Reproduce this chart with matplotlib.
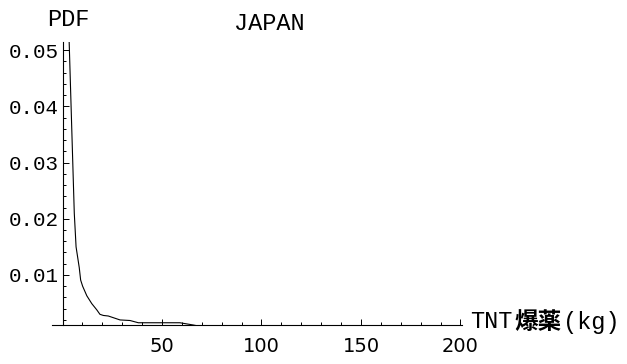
import numpy as np
import matplotlib.pyplot as plt
from matplotlib.ticker import FixedLocator

# density curve, TNT charge (kg) vs PDF
tnt_kg = [3.2, 5.4, 5.9, 6.8, 8.4, 9.1, 10.1, 12.2, 14.7, 17.2, 18.8, 20.5, 23.0,
          28.9, 33.9, 38.1, 59.0, 65.7, 70.0]
pdf = [0.0530, 0.0269, 0.0210, 0.0150, 0.0113, 0.0091, 0.0080, 0.0063, 0.0049,
       0.0038, 0.0030, 0.0028, 0.0027, 0.0020, 0.0019, 0.0015, 0.0015, 0.0011, 0.0008]

x_major = [50, 100, 150, 200]
x_minor = [v for v in range(10, 200, 10) if v % 50 != 0]
y_major = [0.01, 0.02, 0.03, 0.04, 0.05]
y_labels = ['0.01', '0.02', '0.03', '0.04', '0.05']
y_minor = [round(v, 3) for v in np.arange(0.002, 0.0501, 0.002) if round(v * 1000) % 10 != 0]

W, H = 627, 364
fig = plt.figure(figsize=(W / 100, H / 100), dpi=100)
# axes box in pixels: left 52, right 462, top 41.7, bottom 325
ax = fig.add_axes([52 / W, (H - 325) / H, 410 / W, (325 - 41.7) / H])

ax.plot(tnt_kg, pdf, color='black', lw=0.8)
ax.set_xlim(-5.3, 200.8)
ax.set_ylim(0.0011, 0.0515)

for s in ['top', 'right']:
    ax.spines[s].set_visible(False)
ax.spines['left'].set_position(('data', 0))
for s in ['left', 'bottom']:
    ax.spines[s].set_linewidth(0.8)

ax.xaxis.set_major_locator(FixedLocator(x_major))
ax.xaxis.set_minor_locator(FixedLocator(x_minor))
ax.yaxis.set_major_locator(FixedLocator(y_major))
ax.yaxis.set_minor_locator(FixedLocator(y_minor))
ax.set_yticklabels(y_labels)

ax.tick_params(axis='x', which='major', direction='in', length=4, width=0.7, pad=9,
               labelsize=14)
ax.tick_params(axis='x', which='minor', direction='in', length=2.5, width=0.7)
ax.tick_params(axis='y', which='major', direction='in', length=4, width=0.7, pad=3,
               labelsize=15)
ax.tick_params(axis='y', which='minor', direction='in', length=2.5, width=0.7)
for lab in ax.get_yticklabels():
    lab.set_family('Liberation Mono')
for lab in ax.get_xticklabels():
    lab.set_family('DejaVu Sans')

mono = 'Liberation Mono'
fig.text(68.5 / W, 1 - 20 / H, 'PDF', family=mono, fontsize=17, ha='center', va='center')
fig.text(269 / W, 1 - 23 / H, 'JAPAN', family=mono, fontsize=17, ha='center', va='center')

# axis label: TNT + bold kanji + (kg)
fig.text(470 / W, 1 - 322 / H, 'TNT', family=mono, fontsize=17, ha='left', va='center')
fig.text(514 / W, 1 - 322 / H, '爆薬', family='Noto Sans CJK JP', fontweight='bold',
         fontsize=17, ha='left', va='center')
fig.text(563 / W, 1 - 322 / H, '(kg)', family=mono, fontsize=17, ha='left', va='center')

fig.savefig('out.png', dpi=100)
